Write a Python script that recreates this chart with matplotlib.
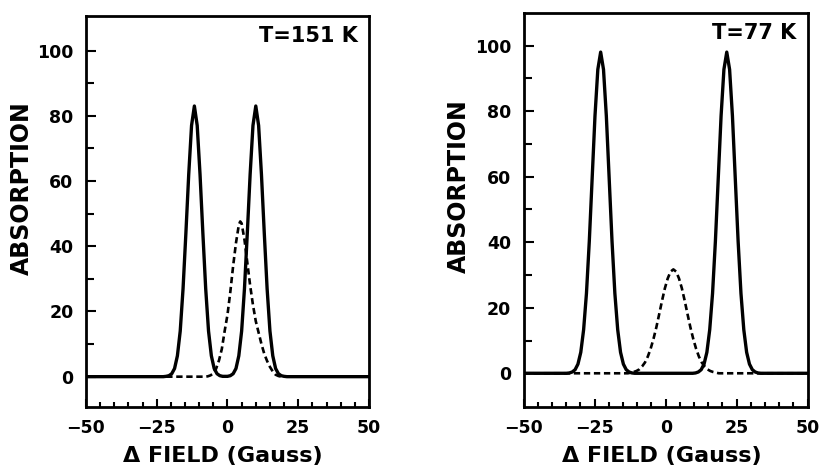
import matplotlib
matplotlib.use("Agg")
import matplotlib.pyplot as plt
from matplotlib.ticker import MultipleLocator, FixedLocator

# T = 151 K panel
t151_solid_x = [-50, -22.7, -21.7, -20.7, -19.7, -18.7, -17.7, -16.7, -15.7, -14.7, -13.7,
                -12.7, -11.7, -10.7, -9.7, -8.7, -7.7, -6.7, -5.7, -4.7, -3.7, -2.7, -1.7,
                0, 1, 2, 3, 4, 5, 6, 7, 8, 9, 10, 11, 12, 13, 14, 15, 16, 17, 18, 19, 20, 21, 50]
t151_solid_y = [0, 0, 0.1, 0.3, 0.9, 2.5, 6.4, 14, 27, 44, 62,
                77, 83, 77, 62, 44, 27, 14, 6.4, 2.5, 0.9, 0.3, 0.1,
                0.1, 0.3, 0.9, 2.5, 6.4, 14, 27, 44, 62, 77, 83, 77, 62, 44, 27, 14, 6.4, 2.5, 0.9, 0.3, 0.1, 0, 0]
t151_dash_x = [-50, -8, -7, -6, -5, -4, -3, -2, -1, 0, 1, 2, 3, 4, 4.5, 5, 6, 7, 8, 9,
               10, 11, 12, 13, 14, 15, 16, 17, 18, 19, 50]
t151_dash_y = [0, 0, 0.1, 0.4, 1, 2.5, 5, 8.5, 14, 19, 26, 34, 41, 46.5, 47.6, 47, 42, 35, 28, 22,
               17, 13.5, 10, 7, 4.8, 3, 1.6, 0.6, 0.2, 0, 0]

# T = 77 K panel
t77_solid_x = [-50, -34.9, -33.9, -32.9, -31.9, -30.9, -29.9, -28.9, -27.9, -26.9, -25.9, -24.9,
               -23.9, -22.9, -21.9, -20.9, -19.9, -18.9, -17.9, -16.9, -15.9, -14.9, -13.9,
               -12.9, -11.9, -10.9,
               9.5, 10.5, 11.5, 12.5, 13.5, 14.5, 15.5, 16.5, 17.5, 18.5, 19.5, 20.5, 21.5,
               22.5, 23.5, 24.5, 25.5, 26.5, 27.5, 28.5, 29.5, 30.5, 31.5, 32.5, 33.5, 50]
t77_solid_y = [0, 0, 0.1, 0.4, 1.1, 2.8, 6.4, 13.3, 24.4, 40.3, 59.4, 78.5,
               92.7, 98, 92.7, 78.5, 59.4, 40.3, 24.4, 13.3, 6.4, 2.8, 1.1,
               0.4, 0.1, 0,
               0, 0.1, 0.4, 1.1, 2.8, 6.4, 13.3, 24.4, 40.3, 59.4, 78.5, 92.7, 98,
               92.7, 78.5, 59.4, 40.3, 24.4, 13.3, 6.4, 2.8, 1.1, 0.4, 0.1, 0, 0]
t77_dash_x = [-50, -13.3, -12.3, -11.3, -10.3, -9.3, -8.3, -7.3, -6.3, -5.3, -4.3, -3.3, -2.3,
              -1.3, -0.3, 0.7, 1.7, 2.7, 3.7, 4.7, 5.7, 6.7, 7.7, 8.7, 9.7, 10.7, 11.7, 12.7,
              13.7, 14.7, 15.7, 16.7, 17.7, 18.7, 50]
t77_dash_y = [0, 0, 0.2, 0.4, 0.7, 1.2, 2.1, 3.3, 5.1, 7.5, 10.5, 14, 18,
              22.1, 25.9, 28.9, 31, 31.7, 31, 28.9, 25.9, 22.1, 18, 14, 10.5, 7.5, 5.1, 3.3,
              2.1, 1.2, 0.7, 0.4, 0.2, 0, 0]

panels = [
    ("T=151 K", t151_solid_x, t151_solid_y, t151_dash_x, t151_dash_y,
     [0.1046, 0.1322, 0.3443, 0.8337], (-9.3, 110.6)),
    ("T=77 K", t77_solid_x, t77_solid_y, t77_dash_x, t77_dash_y,
     [0.6371, 0.1328, 0.3455, 0.8400], (-10.2, 110.0)),
]

fig = plt.figure(figsize=(8.22, 4.69), dpi=100)

for titulo, sx, sy, dx, dy, rect, ylim in panels:
    ax = fig.add_axes(rect)
    ax.plot(dx, dy, color="black", linewidth=1.9, dashes=(2.4, 1.4))
    ax.plot(sx, sy, color="black", linewidth=2.4, solid_joinstyle="round")

    ax.set_xlim(-50, 50)
    ax.set_ylim(*ylim)
    ax.xaxis.set_major_locator(MultipleLocator(25))
    ax.xaxis.set_minor_locator(MultipleLocator(5))
    ax.yaxis.set_major_locator(FixedLocator([0, 20, 40, 60, 80, 100]))
    ax.yaxis.set_minor_locator(FixedLocator([10, 30, 50, 70, 90]))
    ax.tick_params(which="both", direction="in", top=False, right=False, width=1.5)
    ax.tick_params(which="major", axis="y", length=7, pad=9)
    ax.tick_params(which="minor", axis="y", length=6)
    ax.tick_params(which="major", axis="x", length=6, pad=9)
    ax.tick_params(which="minor", axis="x", length=3.5)
    for lab in ax.get_xticklabels() + ax.get_yticklabels():
        lab.set_fontweight("bold")
        lab.set_fontsize(12.5)
    for sp in ax.spines.values():
        sp.set_linewidth(2.0)

    ax.set_ylabel("ABSORPTION", fontsize=17, fontweight="bold")
    ax.yaxis.set_label_coords(-0.185, 0.56)
    ax.set_xlabel("Δ FIELD (Gauss)", fontsize=16, fontweight="bold")
    ax.xaxis.set_label_coords(0.485, -0.125)
    ax.xaxis.label.set_verticalalignment("center")

    ax.text(0.96, 0.975, titulo, transform=ax.transAxes, ha="right", va="top",
            fontsize=15, fontweight="bold")

fig.savefig("out.png", dpi=100)
